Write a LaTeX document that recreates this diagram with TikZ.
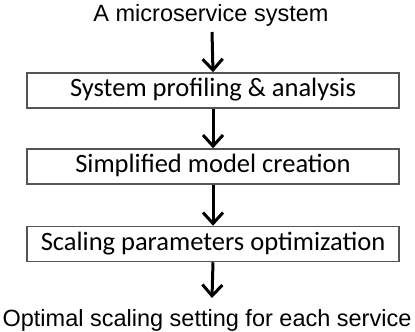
\documentclass[tikz,border=0pt]{standalone}
\usepackage{fontspec}
\setmainfont{Liberation Sans}
\newfontfamily\boxfont{Carlito}
\usetikzlibrary{arrows.meta}
\definecolor{boxline}{HTML}{555555}
\begin{document}
\begin{tikzpicture}[x=1pt,y=-1pt,
  stepbox/.style={draw=boxline, line width=1.5pt, minimum width=372pt, minimum height=35pt, inner sep=0pt, text height=17pt, text depth=5pt, font=\boxfont\fontsize{26.5}{28}\selectfont},
  endtext/.style={inner sep=0pt, anchor=base, font=\fontsize{23.5}{26}\selectfont},
  flow/.style={line width=3pt, -{Straight Barb[length=11pt,width=20pt,line width=3pt]}}]
\useasboundingbox (0,0) rectangle (415,332);
\node[endtext] (top) at (211,21) {A microservice system};
\node[stepbox] (b1) at (213,90.5) {System profiling \& analysis};
\node[stepbox] (b2) at (213,166.5) {Simplified model creation};
\node[stepbox] (b3) at (213,244) {Scaling parameters optimization};
\node[endtext] (bot) at (207,326) {Optimal scaling setting for each service};
\coordinate (a0s) at (212,32);
\coordinate (a4e) at (212,298);
\draw[flow] (a0s) -- (b1.north);
\draw[flow] (b1.south) -- (b2.north);
\draw[flow] (b2.south) -- (b3.north);
\draw[flow] (b3.south) -- (a4e);
\end{tikzpicture}
\end{document}
